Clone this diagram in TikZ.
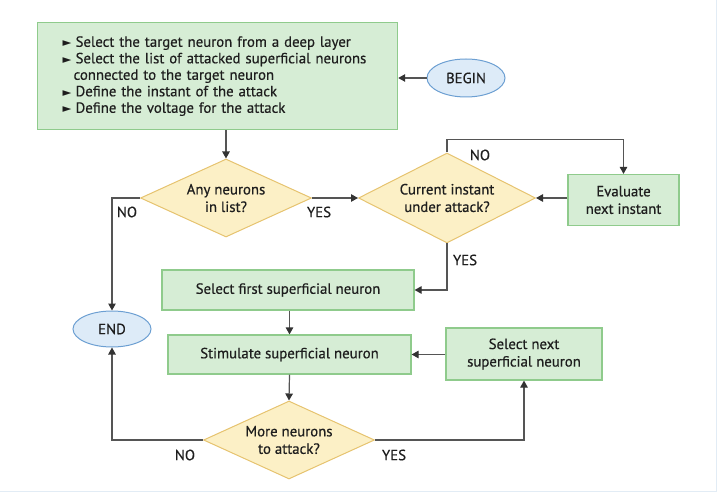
\documentclass[tikz,border=0pt]{standalone}
\usepackage{fontspec}
\setmainfont{PT Sans}[FakeBold=0.5]
\newfontfamily\symf{DejaVu Sans}
\usetikzlibrary{shapes.geometric,arrows.meta}
\definecolor{gfill}{HTML}{D6EDD5}
\definecolor{gline}{HTML}{8FCB8C}
\definecolor{yfill}{HTML}{FCF0C6}
\definecolor{yline}{HTML}{E6C36F}
\definecolor{bfill}{HTML}{DDEBF8}
\definecolor{bline}{HTML}{6C9FD2}
\definecolor{cline}{HTML}{555555}
\definecolor{tcol}{HTML}{1E1E1E}
\definecolor{edge}{HTML}{E2ECF5}
\tikzset{
  every node/.style={font=\fontsize{14.8}{17.5}\selectfont, text=tcol},
  gbox/.style={draw=gline, fill=gfill, line width=1.2pt, rectangle, inner sep=0pt, align=center},
  dia/.style={draw=yline, fill=yfill, line width=1pt, diamond, inner sep=0pt},
  dtext/.style={label={[align=center, inner sep=0pt]center:#1}},
  oval/.style={draw=bline, fill=bfill, line width=1pt, ellipse, inner sep=0pt},
  conn/.style={draw=cline, line width=1.2pt, -{Triangle[length=7pt,width=7.5pt,color=black!80]}},
  lbl/.style={inner sep=0pt}
}
\newcommand{\bul}{\makebox[13pt][l]{\raisebox{0pt}{\symf\fontsize{11.5}{11.5}\selectfont ►}}}
\begin{document}
\begin{tikzpicture}[x=1pt,y=-1pt]
\useasboundingbox (0,0) rectangle (717,494);
\draw[edge, line width=1pt] (0,491.5) -- (716.5,491.5) -- (716.5,0);
% nodes
\node[gbox, anchor=north west, minimum width=360pt, minimum height=107pt, text width=310pt, inner xsep=25pt, align=left, font=\fontsize{14.8}{16.5}\selectfont] (top) at (37,22)
 {\bul Select the target neuron from a deep layer\\
  \bul Select the list of attacked superficial neurons\\
  \hspace*{11pt}connected to the target neuron\\
  \bul Define the instant of the attack\\
  \bul Define the voltage for the attack};
\node[oval, minimum width=78pt, minimum height=38pt] (begin) at (466,78) {BEGIN};
\node[dia, minimum width=171pt, minimum height=78pt, dtext={Any neurons\\in list?}] (d1) at (226,198) {};
\node[dia, minimum width=177pt, minimum height=90pt, dtext={Current instant\\under attack?}] (d2) at (447,198) {};
\node[gbox, minimum width=111pt, minimum height=51pt] (eval) at (623.5,200) {Evaluate\\next instant};
\node[gbox, minimum width=252pt, minimum height=40pt] (first) at (288,290) {Select first superficial neuron};
\node[gbox, minimum width=243pt, minimum height=39pt] (stim) at (289.5,354.5) {Stimulate superficial neuron};
\node[gbox, minimum width=156pt, minimum height=52pt] (next) at (524,354) {Select next\\superficial neuron};
\node[dia, minimum width=171pt, minimum height=78pt, dtext={More neurons\\to attack?}] (d3) at (289,440) {};
\node[oval, minimum width=78pt, minimum height=36pt] (end) at (112,329) {END};
% labels
\node[lbl] (l1) at (127,212) {NO};
\node[lbl] (l2) at (319,212) {YES};
\node[lbl] (l3) at (480,155) {NO};
\node[lbl] (l4) at (465,260) {YES};
\node[lbl] (l5) at (185,455) {NO};
\node[lbl] (l6) at (394,455) {YES};
% connectors
\draw[conn] (begin.west) -- (begin.west -| top.east);
\draw[conn] (top.south -| d1.north) -- (d1.north);
\draw[conn] (d1.east) -- (d2.west);
\draw[conn] (d2.north) -- ++(0,-13) -| (eval.north);
\draw[conn] (eval.west |- d2.east) -- (d2.east);
\draw[conn] (d2.south) |- (first.east);
\draw[conn] (first.south -| stim.north) -- (stim.north);
\draw[conn] (stim.south) -- (d3.north);
\draw[conn] (next.west |- stim.east) -- (stim.east);
\draw[conn] (d3.east) -| (next.south);
\draw[conn] (d3.west) -| (end.south);
\draw[conn] (d1.west) -| (end.north);
\end{tikzpicture}
\end{document}
